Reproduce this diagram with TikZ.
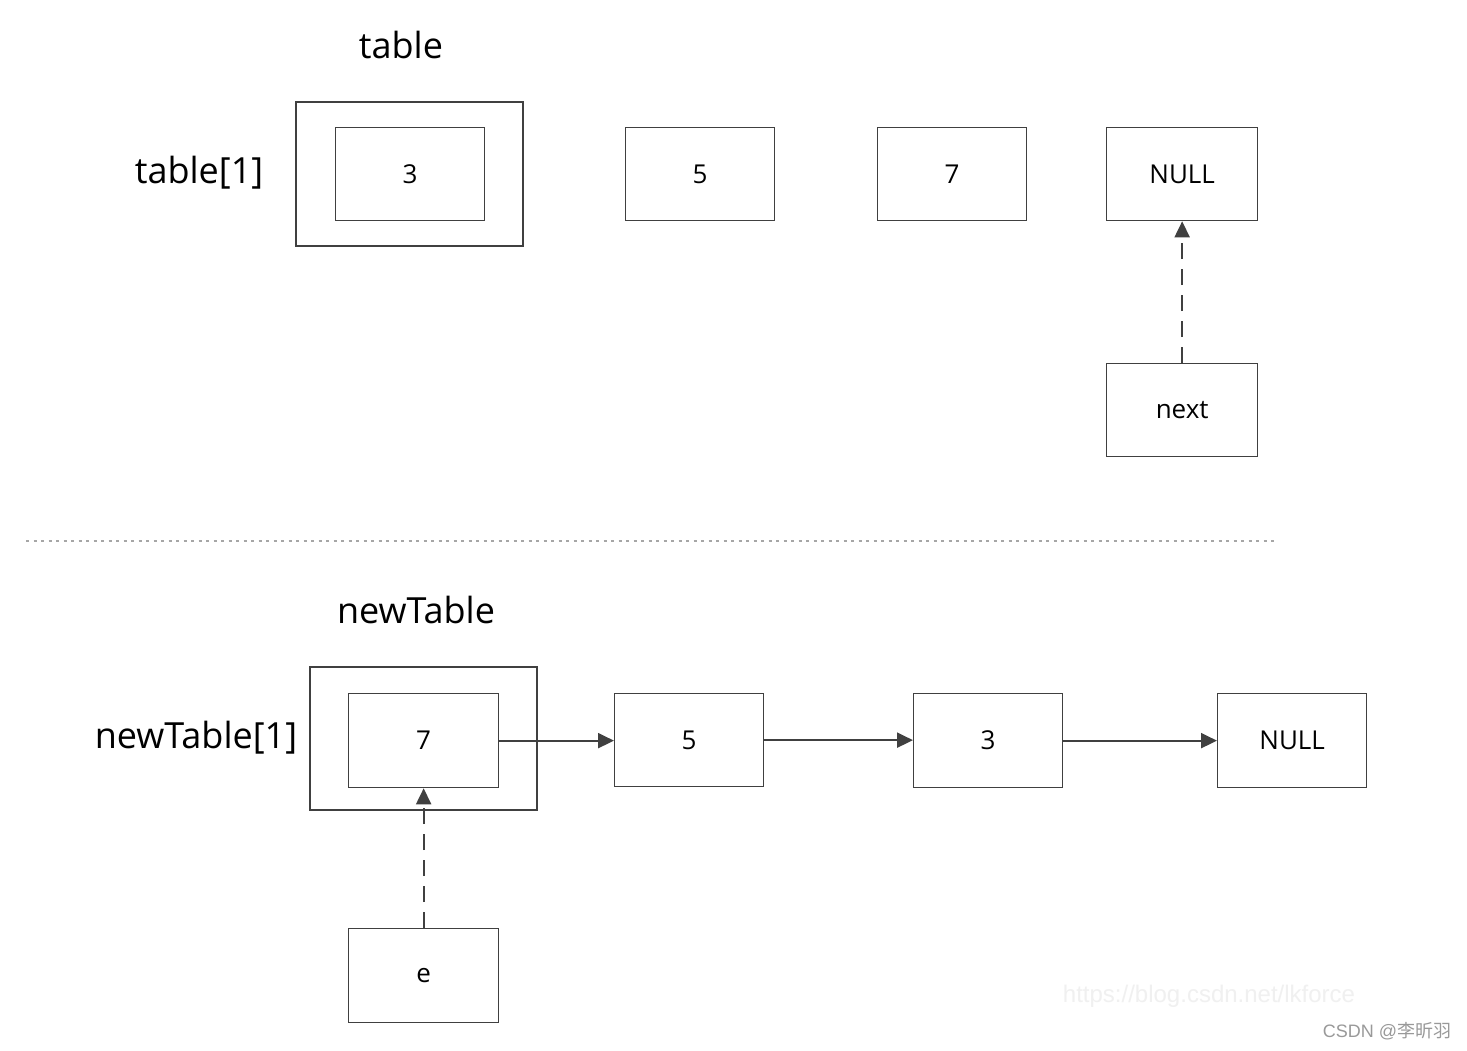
\documentclass[tikz,border=0pt]{standalone}
\usepackage{fontspec}
\setmainfont{Open Sans}
\newfontfamily\cjkfont{Noto Sans CJK SC}
\newfontfamily\wmfont{Liberation Sans}
\usetikzlibrary{arrows.meta}
\definecolor{edge}{HTML}{404040}
\begin{document}
\begin{tikzpicture}[x=1pt,y=-1pt,
  box/.style={draw=edge,line width=1.3pt,minimum width=149pt,minimum height=93pt,inner sep=0pt,font=\fontsize{26}{30}\selectfont},
  frame/.style={draw=edge,line width=1.2pt},
  title/.style={font=\fontsize{36}{42}\selectfont},
  link/.style={draw=edge,line width=2pt,-{Triangle[length=16pt,width=15pt]}},
  ptr/.style={draw=edge,line width=2pt,dash pattern=on 16pt off 10pt,-{Triangle[length=16pt,width=15pt]}}]
\useasboundingbox (0,0) rectangle (1467,1051);
\fill[white] (0,0) rectangle (1467,1051);
% top
\node[title] (t) at (401,45) {table};
\node[title] (t1) at (199,173) {table[1]};
\draw[frame] (296,102) rectangle (523,246);
\node[box,anchor=north west] (a3) at (335,127) {3};
\node[box,anchor=north west] (a5) at (625,127) {5};
\node[box,anchor=north west] (a7) at (877,127) {7};
\node[box,anchor=north west,minimum width=151pt] (anull) at (1106,127) {NULL};
\node[box,anchor=north west,minimum width=151pt] (next) at (1106,363) {next};
\draw[ptr] (next.north) -- (anull.south);
% separator
\coordinate (s1) at (26,541);
\coordinate (s2) at (1275,541);
\draw[gray!70,line width=1.5pt,dash pattern=on 3pt off 4.5pt] (s1) -- (s2);
% bottom
\node[title] (nt) at (416,610) {newTable};
\node[title] (nt1) at (196,738) {newTable[1]};
\draw[frame] (310,667) rectangle (537,810);
\node[box,anchor=north west,minimum width=150pt,minimum height=94pt] (b7) at (348,693) {7};
\node[box,anchor=north west] (b5) at (614,693) {5};
\node[box,anchor=north west,minimum height=94pt] (b3) at (913,693) {3};
\node[box,anchor=north west,minimum height=94pt] (bnull) at (1217,693) {NULL};
\node[box,anchor=north west,minimum width=150pt,minimum height=94pt] (e) at (348,928) {e};
\draw[link] (b7.east) -- (b7.east -| b5.west);
\draw[link] (b5.east) -- (b5.east -| b3.west);
\draw[link] (b3.east) -- (b3.east -| bnull.west);
\draw[ptr] (e.north) -- (b7.south);
% watermark
\node[text=gray!12,font=\wmfont\fontsize{24}{28}\selectfont] (wm) at (1209,996) {https://blog.csdn.net/lkforce};
\node[text=gray!80,font=\wmfont\fontsize{18}{22}\selectfont] (wm2) at (1387,1031) {CSDN @{\cjkfont 李昕羽}};
\end{tikzpicture}
\end{document}
